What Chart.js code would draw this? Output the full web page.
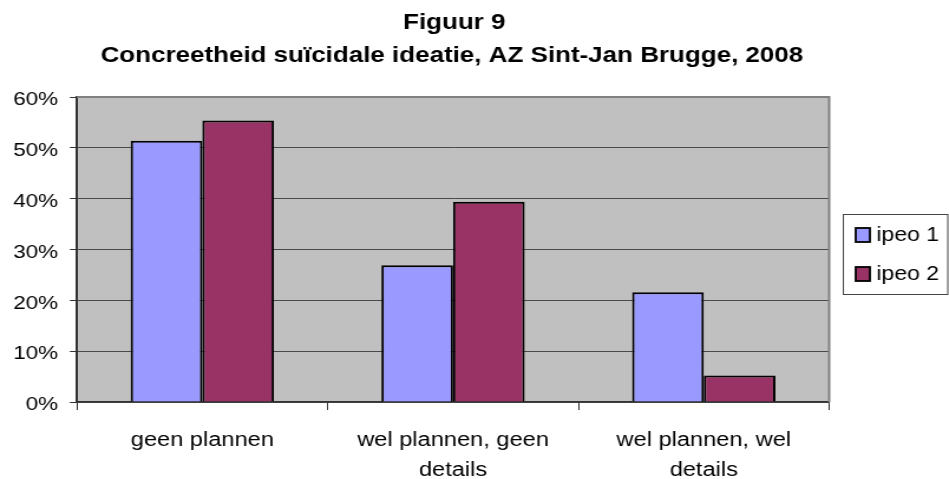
<!DOCTYPE html>
<html>
<head>
<meta charset="utf-8">
<script src="https://cdn.jsdelivr.net/npm/chart.js@4/dist/chart.umd.min.js"></script>
<style>
  html, body { margin: 0; padding: 0; background: #fff; overflow: hidden; }
  #wrap { width: 949px; height: 479px; overflow: hidden; }
  /* the figure is drawn narrow and stretched sideways, like the original export */
  #myChart { transform: scaleX(1.1803); transform-origin: 0 0; }
</style>
</head>
<body>
<div id="wrap"><canvas id="myChart" width="804" height="479"></canvas></div>
<script>
// chart data
var titleLines = ["Figuur 9", "Concreetheid suïcidale ideatie, AZ Sint-Jan Brugge, 2008"];
var categories = ["geen plannen", ["wel plannen, geen", "details"], ["wel plannen, wel", "details"]];
var seriesNames = ["ipeo 1", "ipeo 2"];
var ipeo1 = [51.4, 26.9, 21.6];
var ipeo2 = [55.4, 39.4, 5.2];
var yTicks = [0, 10, 20, 30, 40, 50, 60];

var FONT = "'Liberation Sans', Arial, sans-serif";

// grey plot background, top/right border, title and legend box
var decor = {
  id: "decor",
  beforeDraw: function (chart) {
    var ctx = chart.ctx, a = chart.chartArea;
    ctx.save();
    ctx.fillStyle = "#C0C0C0";
    ctx.fillRect(a.left, a.top, a.right - a.left, a.bottom - a.top);
    ctx.restore();
  },
  afterDraw: function (chart) {
    var ctx = chart.ctx, a = chart.chartArea;
    ctx.save();
    // plot frame (top and right)
    ctx.strokeStyle = "#808080";
    ctx.lineWidth = 2;
    ctx.beginPath();
    ctx.moveTo(a.left, a.top);
    ctx.lineTo(a.right, a.top);
    ctx.lineTo(a.right, a.bottom);
    ctx.stroke();

    // title
    ctx.fillStyle = "#000";
    ctx.font = "bold 22px " + FONT;
    ctx.textAlign = "center";
    ctx.textBaseline = "alphabetic";
    var cx = (a.left + a.right) / 2;
    ctx.fillText(titleLines[0], cx + 1, 28.5);
    ctx.fillText(titleLines[1], cx - 1, 62);

    // legend
    var lx = 714.5, ly = 214.5, lw = 88.5, lh = 80;
    ctx.strokeStyle = "#444";
    ctx.lineWidth = 1;
    ctx.strokeRect(lx, ly, lw, lh);
    ctx.font = "19.5px " + FONT;
    ctx.textAlign = "left";
    ctx.textBaseline = "middle";
    chart.data.datasets.forEach(function (ds, i) {
      var ry = 235 + i * 39;
      ctx.fillStyle = ds.backgroundColor;
      ctx.fillRect(725, ry - 7, 12, 14);
      ctx.strokeStyle = "#000";
      ctx.lineWidth = 1.8;
      ctx.strokeRect(725, ry - 7, 12, 14);
      ctx.fillStyle = "#000";
      ctx.fillText(ds.label, 742.5, ry + 1);
    });
    ctx.restore();
  }
};

var ctx = document.getElementById("myChart").getContext("2d");
var chart = new Chart(ctx, {
  type: "bar",
  data: {
    labels: categories,
    datasets: [
      {
        label: seriesNames[0],
        data: ipeo1,
        backgroundColor: "#9999FF",
        borderColor: "#000",
        borderWidth: 2,
      },
      {
        label: seriesNames[1],
        data: ipeo2,
        backgroundColor: "#993366",
        borderColor: "#000",
        borderWidth: 2,
      },
    ],
  },
  options: {
    responsive: false,
    animation: false,
    layout: { padding: { top: 97, right: 101.5, left: 0, bottom: 0 } },
    datasets: { bar: { categoryPercentage: 0.5714, barPercentage: 1 } },
    plugins: {
      legend: { display: false },
      title: { display: false },
      tooltip: { enabled: false },
    },
    scales: {
      x: {
        afterFit: function (scale) { scale.height = 77; },
        grid: {
          offset: true,
          drawOnChartArea: false,
          drawTicks: true,
          tickLength: 8,
          tickColor: "#333",
        },
        border: { color: "#333", width: 1.5 },
        ticks: {
          color: "#000",
          font: { family: FONT, size: 20, lineHeight: 1.5 },
          padding: 15,
          maxRotation: 0,
          autoSkip: false,
        },
      },
      y: {
        min: 0,
        max: 60,
        afterFit: function (scale) { scale.width = 65.2; },
        afterBuildTicks: function (scale) {
          scale.ticks = yTicks.map(function (v) { return { value: v }; });
        },
        grid: {
          color: "#4a4a4a",
          lineWidth: 1,
          drawTicks: true,
          tickLength: 6,
          tickColor: "#333",
        },
        border: { color: "#333", width: 2 },
        ticks: {
          color: "#000",
          font: { family: FONT, size: 19 },
          padding: 10,
          labelOffset: 3,
          callback: function (v) { return v + "%"; },
        },
      },
    },
  },
  plugins: [decor],
});
</script>
</body>
</html>
